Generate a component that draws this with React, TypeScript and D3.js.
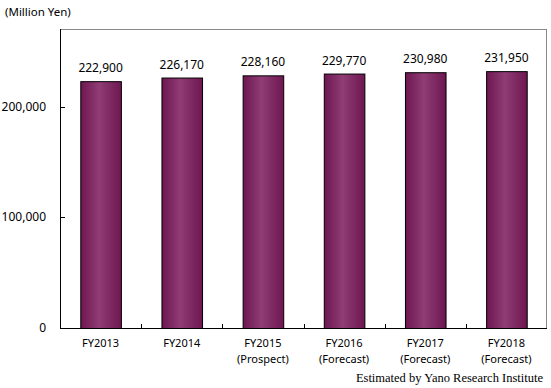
import * as d3 from 'd3';

const categories = ['FY2013', 'FY2014', 'FY2015', 'FY2016', 'FY2017', 'FY2018'];
const subLabels = ['', '', '(Prospect)', '(Forecast)', '(Forecast)', '(Forecast)'];
const values = [222900, 226170, 228160, 229770, 230980, 231950];
const yTicks = [0, 100000, 200000];

const width = 551;
const height = 388;
const margin = { top: 29, right: 4, bottom: 60, left: 60 };
const font = '"Noto Sans", "DejaVu Sans", sans-serif';

const App = () => {
  const x = d3.scaleBand()
    .domain(categories)
    .range([margin.left, width - margin.right])
    .paddingInner(0.5)
    .paddingOuter(0.25);

  const y = d3.scaleLinear()
    .domain([0, 270000])
    .range([height - margin.bottom, margin.top]);

  const fmt = d3.format(',');
  const band = (width - margin.left - margin.right) / categories.length;

  return (
    <div style={{ position: 'absolute', left: 0, top: 0 }}>
      <svg width={width} height={height} style={{ display: 'block', background: '#fff' }}>
        <defs>
          <linearGradient id="barGrad" x1="0" x2="1" y1="0" y2="0">
            <stop offset="0%" stopColor="#6e1650" />
            <stop offset="45%" stopColor="#8f3d74" />
            <stop offset="100%" stopColor="#6e1650" />
          </linearGradient>
        </defs>

        <text x={5} y={16} fontFamily={font} fontSize={11.5} fill="#000">(Million Yen)</text>

        {/* plot frame */}
        <line x1={margin.left} x2={width - margin.right} y1={margin.top + 0.5} y2={margin.top + 0.5} stroke="#888" />
        <line x1={width - margin.right - 0.5} x2={width - margin.right - 0.5} y1={margin.top} y2={y(0)} stroke="#888" />

        {/* bars */}
        {categories.map((c, i) => (
          <g key={c}>
            <rect
              x={x(c)! + 0.5}
              y={y(values[i]) + 0.5}
              width={x.bandwidth()}
              height={y(0) - y(values[i])}
              fill="url(#barGrad)"
              stroke="#000"
            />
            <text
              x={x(c)! + x.bandwidth() / 2}
              y={y(values[i]) - 9}
              textAnchor="middle"
              fontFamily={font}
              fontSize={12}
            >
              {fmt(values[i])}
            </text>
          </g>
        ))}

        {/* axes */}
        <line x1={margin.left + 0.5} x2={margin.left + 0.5} y1={margin.top} y2={y(0)} stroke="#000" />
        <line x1={margin.left} x2={width - margin.right} y1={y(0) + 0.5} y2={y(0) + 0.5} stroke="#000" />

        {yTicks.map(t => (
          <g key={t}>
            <line x1={margin.left} x2={margin.left + 5} y1={Math.round(y(t)) + 0.5} y2={Math.round(y(t)) + 0.5} stroke="#000" />
            <text x={46} y={y(t) + 4} textAnchor="end" fontFamily={font} fontSize={12}>{fmt(t)}</text>
          </g>
        ))}

        {categories.slice(1).map((c, i) => (
          <line
            key={c}
            x1={Math.round(margin.left + band * (i + 1)) + 0.5}
            x2={Math.round(margin.left + band * (i + 1)) + 0.5}
            y1={y(0) - 4}
            y2={y(0)}
            stroke="#000"
          />
        ))}

        {categories.map((c, i) => (
          <g key={c}>
            <text x={x(c)! + x.bandwidth() / 2} y={347} textAnchor="middle" fontFamily={font} fontSize={11}>{c}</text>
            {subLabels[i] && (
              <text x={x(c)! + x.bandwidth() / 2} y={363} textAnchor="middle" fontFamily={font} fontSize={11}>{subLabels[i]}</text>
            )}
          </g>
        ))}

        <text x={543} y={382} textAnchor="end" fontFamily='"Liberation Serif", serif' fontSize={12.5}>
          Estimated by Yano Research Institute
        </text>
      </svg>
    </div>
  );
};

export default App;
